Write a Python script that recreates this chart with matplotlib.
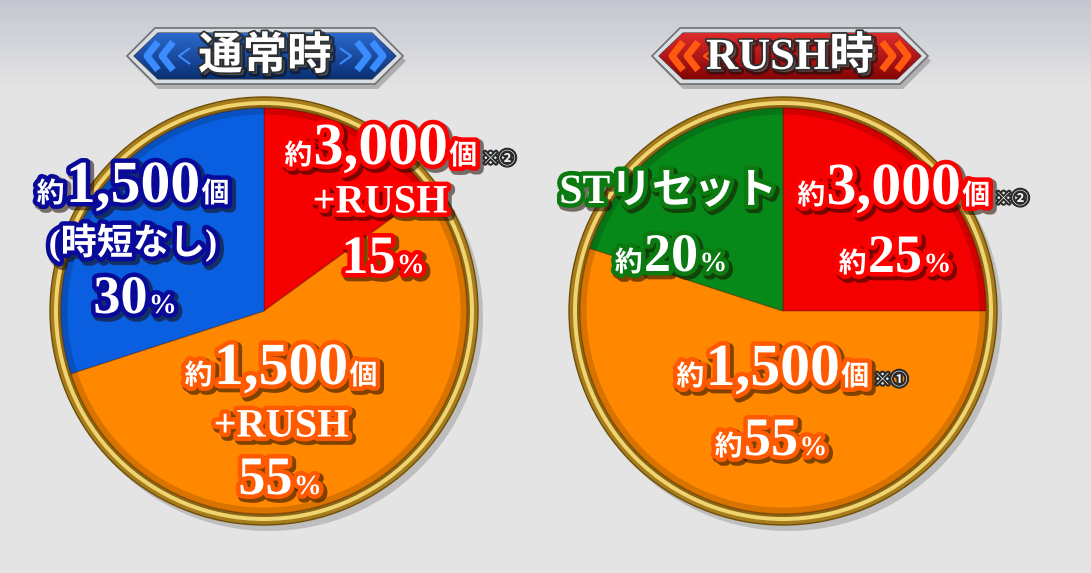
import re
import numpy as np
import matplotlib
matplotlib.use('Agg')
import matplotlib.pyplot as plt
import matplotlib.patheffects as pe
from matplotlib.patches import Circle, Polygon
from matplotlib.offsetbox import TextArea, HPacker, AnnotationBbox

W, H = 1091, 573
FONT = ['Liberation Serif', 'Noto Sans CJK JP', 'DejaVu Sans']

# chart data
titles = ['通常時', 'RUSH時']

normal_amount = ['約3,000個', '約1,500個', '約1,500個']
normal_extra = ['+RUSH', '+RUSH', '(時短なし)']
normal_notes = ['※②', '', '']
normal_share = [15, 55, 30]
normal_prefix = ''

rush_amount = ['約3,000個', '約1,500個', 'STリセット']
rush_extra = ['', '', '']
rush_notes = ['※②', '※①', '']
rush_share = [25, 55, 20]
rush_prefix = '約'


def text_style(size, edge):
    return dict(fontsize=size, color='white', fontweight='bold', family=FONT,
                path_effects=[pe.Stroke(linewidth=8, foreground='#1a0a00', alpha=0.55, offset=(2, -2)),
                              pe.Stroke(linewidth=6.5, foreground=edge),
                              pe.Normal()])


def put_line(ax, x, y, text, big, small, edge, note=''):
    parts = re.findall(r'[0-9,]+|[^0-9,]+', text)
    has_digit = any(p[0].isdigit() for p in parts)
    boxes = []
    for p in parts:
        size = big if (p[0].isdigit() or not has_digit) else small
        boxes.append(TextArea(p, textprops=text_style(size, edge)))
    if note:
        boxes.append(TextArea(' ' + note, textprops=dict(
            fontsize=12, color='#f4f4f4', fontweight='bold', family=['Noto Sans CJK JP', 'DejaVu Sans'],
            path_effects=[pe.Stroke(linewidth=3, foreground='#2a2a2a'), pe.Normal()])))
    pack = HPacker(children=boxes, align='baseline', pad=0, sep=1)
    ab = AnnotationBbox(pack, (x, H - y), frameon=False, box_alignment=(0.5, 0.5), pad=0)
    ax.add_artist(ab)


def draw_banner(ax, cx, cy, w, h, title, grad, chevron):
    x0, x1 = cx - w / 2, cx + w / 2
    y = H - cy
    y0, y1 = y - h / 2, y + h / 2
    tip = h / 2
    outer = [(x0, y), (x0 + tip, y1), (x1 - tip, y1), (x1, y), (x1 - tip, y0), (x0 + tip, y0)]
    shadow = Polygon([(px + 3, py - 5) for px, py in outer], closed=True, fc='#555555', ec='none', alpha=0.35)
    ax.add_patch(shadow)
    ax.add_patch(Polygon(outer, closed=True, fc='#d9dde4', ec='#707070', lw=1.2))
    inner = [(x0 + 7, y), (x0 + tip + 3, y1 - 5), (x1 - tip - 3, y1 - 5), (x1 - 7, y),
             (x1 - tip - 3, y0 + 5), (x0 + tip + 3, y0 + 5)]
    ip = Polygon(inner, closed=True, fc='none', ec='#3a3a3a', lw=0.8)
    ax.add_patch(ip)
    g = np.linspace(0, 1, 64)[:, None]
    c0 = np.array(matplotlib.colors.to_rgb(grad[0]))
    c1 = np.array(matplotlib.colors.to_rgb(grad[1]))
    img = (1 - g)[..., None] * c0 + g[..., None] * c1
    im = ax.imshow(img, extent=(x0, x1, y0, y1), origin='upper', aspect='auto', zorder=2)
    im.set_clip_path(ip)
    # chevrons pointing outward
    for side in (-1, 1):
        for k, (off, lw) in enumerate([(w / 2 - 20, 5), (w / 2 - 35, 5), (w / 2 - 52, 1.5)]):
            xt = cx + side * off
            xb = xt - side * 11
            d = 14 - 6 * (k == 2)
            ax.plot([xb, xt, xb], [y + d, y, y - d],
                    color=chevron, lw=lw, solid_capstyle='butt', zorder=3)
    ax.text(cx, y - 1, title, ha='center', va='center', fontsize=32, color='white', fontweight='bold',
            family=FONT, zorder=4,
            path_effects=[pe.Stroke(linewidth=4, foreground='#101010', alpha=0.6, offset=(2, -2)),
                          pe.Stroke(linewidth=2.5, foreground='#303030'), pe.Normal()])


def draw_pie(ax, cx, cy, shares, colors):
    c = (cx, H - cy)
    ax.add_patch(Circle((c[0] + 5, c[1] - 6), 214, fc='#777777', ec='none', alpha=0.35))
    ax.add_patch(Circle(c, 214, fc='#a67c1c', ec='#6e4e0a', lw=1))
    ax.add_patch(Circle(c, 210, fc='#f0d470', ec='none'))
    ax.add_patch(Circle(c, 206, fc='#8a6414', ec='none'))
    ax.pie(shares, colors=colors, startangle=90, counterclock=False, center=c, radius=203,
           frame=True, wedgeprops=dict(edgecolor='#40100040', linewidth=1.0))
    ax.add_patch(Circle(c, 200, fc='none', ec='black', lw=5, alpha=0.15))


fig = plt.figure(figsize=(W / 100, H / 100), dpi=100)
ax = fig.add_axes([0, 0, 1, 1])

# background gradient
bg = np.ones((H, 1, 3)) * np.array([0.898, 0.898, 0.898])
top = np.array([0.77, 0.78, 0.82])
for i in range(90):
    t = i / 90
    bg[i, 0] = top * (1 - t) + np.array([0.898, 0.898, 0.898]) * t
ax.imshow(bg, extent=(0, W, 0, H), origin='upper', aspect='auto', zorder=0)

draw_banner(ax, 265, 56, 276, 56, titles[0], ('#2f6fd6', '#062a6a'), '#3a8cff')
draw_banner(ax, 790, 56, 276, 56, titles[1], ('#e83030', '#7a0000'), '#ff5a10')

normal_colors = ['#f50000', '#ff8800', '#0a5fe0']
normal_edges = ['#ff0000', '#ff5a00', '#0a0a9a']
rush_colors = ['#f50000', '#ff8800', '#07891a']
rush_edges = ['#ff0000', '#ff5a00', '#0b7a10']

draw_pie(ax, 264, 311, normal_share, normal_colors)
draw_pie(ax, 783, 311, rush_share, rush_colors)

# label layout per slice: line 1, line 2, percentage line
normal_pos = [[(400, 150), (380, 203), (383, 260)],
              [(281, 370), (281, 427), (280, 481)],
              [(133, 188), (133, 243), (135, 300)]]
rush_pos = [[(913, 190), None, (895, 259)],
            [(792, 371), None, (771, 442)],
            [(668, 193), None, (671, 258)]]

for amount, extra, note, share, prefix, edges, pos in [
        (normal_amount, normal_extra, normal_notes, normal_share, normal_prefix, normal_edges, normal_pos),
        (rush_amount, rush_extra, rush_notes, rush_share, rush_prefix, rush_edges, rush_pos)]:
    for i in range(len(share)):
        p1, p2, p3 = pos[i]
        big = 43 if amount[i][0] == '約' else 30
        put_line(ax, p1[0], p1[1], amount[i], big, 20, edges[i], note[i])
        if extra[i]:
            put_line(ax, p2[0], p2[1], extra[i], 29 if extra[i][0] == '+' else 26, 20, edges[i])
        put_line(ax, p3[0], p3[1], f'{prefix}{share[i]}%', 39, 20, edges[i])

ax.set_xlim(0, W)
ax.set_ylim(0, H)
ax.axis('off')
fig.savefig('out.png', dpi=100)
